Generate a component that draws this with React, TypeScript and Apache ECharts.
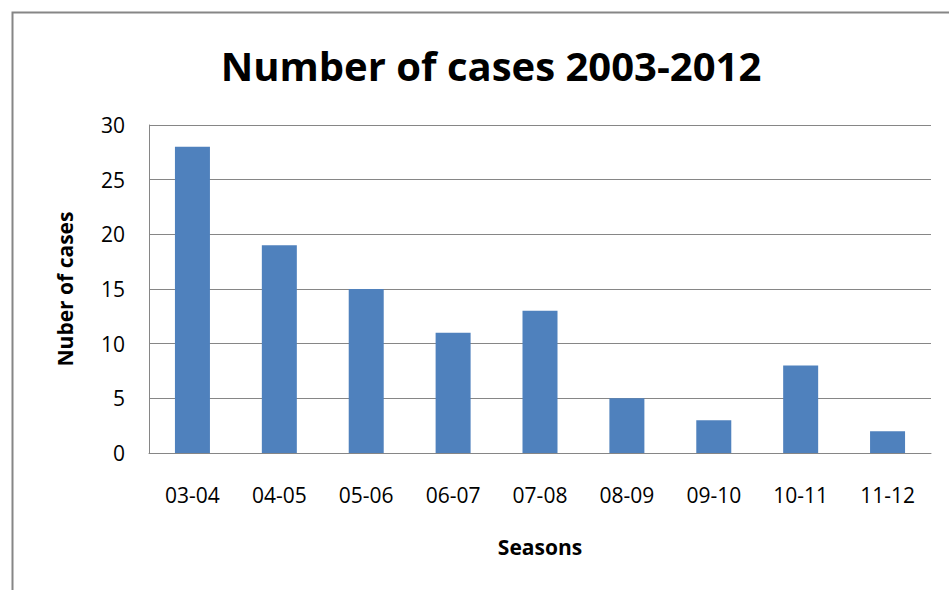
import React, { useEffect, useRef } from "react";
import * as echarts from "echarts";

const categories = ["03-04", "04-05", "05-06", "06-07", "07-08", "08-09", "09-10", "10-11", "11-12"];
const cases = [28, 19, 15, 11, 13, 5, 3, 8, 2];
const titleText = "Number of cases 2003-2012";
const yName = "Nuber of cases";
const xName = "Seasons";

export default function App() {
  const ref = useRef<HTMLDivElement>(null);
  useEffect(() => {
    document.body.style.margin = "0";
    const chart = echarts.init(ref.current!, null, { renderer: "svg" });
    const font = "'Open Sans', sans-serif";
    chart.setOption({
      animation: false,
      backgroundColor: "#ffffff",
      title: {
        text: titleText,
        left: 486,
        top: 40,
        textAlign: "center",
        textStyle: { fontFamily: font, fontWeight: "bold", fontSize: 40, color: "#000" },
      },
      graphic: [
        {
          type: "rect",
          shape: { x: 12.5, y: 12.5, width: 960, height: 600 },
          style: { fill: "none", stroke: "#868686", lineWidth: 2 },
          silent: true,
        },
      ],
      grid: { left: 149, right: 18, top: 125, bottom: 137, containLabel: false },
      xAxis: {
        type: "category",
        data: categories,
        name: xName,
        nameLocation: "middle",
        nameGap: 83,
        nameTextStyle: { fontFamily: font, fontWeight: "bold", fontSize: 21, color: "#000" },
        axisLine: { lineStyle: { color: "#868686", width: 1 } },
        axisTick: { show: false },
        axisLabel: { fontFamily: font, fontSize: 21, color: "#000", margin: 31 },
      },
      yAxis: {
        type: "value",
        min: 0,
        max: 30,
        interval: 5,
        name: yName,
        nameLocation: "middle",
        nameGap: 74,
        nameRotate: 90,
        nameTextStyle: { fontFamily: font, fontWeight: "bold", fontSize: 21, color: "#000" },
        axisLine: { show: true, lineStyle: { color: "#868686", width: 1 } },
        axisTick: { show: false },
        splitLine: { lineStyle: { color: "#868686", width: 1 } },
        axisLabel: { fontFamily: font, fontSize: 21, color: "#000", margin: 24 },
      },
      series: [
        {
          type: "bar",
          data: cases,
          barWidth: 35,
          itemStyle: { color: "#4F81BD" },
        },
      ],
    });
    return () => chart.dispose();
  }, []);
  return <div ref={ref} style={{ width: 949, height: 590 }} />;
}
